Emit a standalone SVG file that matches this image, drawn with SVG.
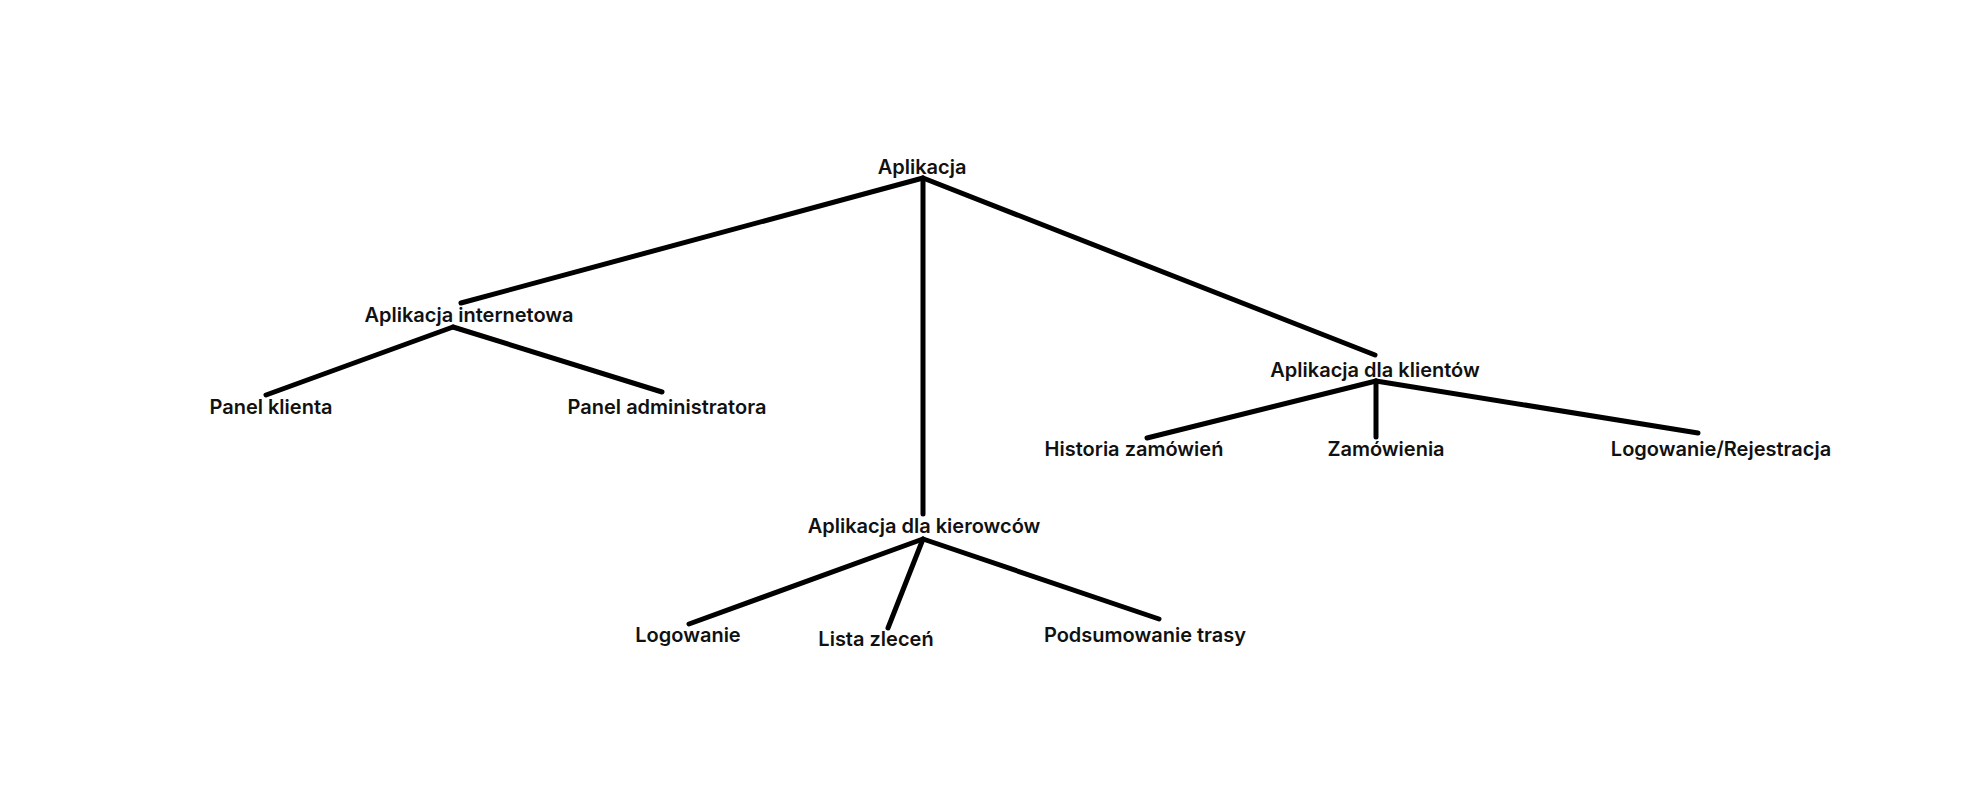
<svg xmlns="http://www.w3.org/2000/svg" width="1980" height="800" viewBox="0 0 1980 800">
<style>
.lbl{font-family:Inter,"Noto Sans","Liberation Sans",sans-serif;font-weight:600;font-size:20px;fill:#111;text-anchor:middle}
.edge{stroke:#000;stroke-width:5;stroke-linecap:round;stroke-linejoin:round;fill:none}
</style>
<rect width="1980" height="800" fill="#fff"/>
<g id="connectors">
<line class="edge" x1="923" y1="178" x2="461" y2="303"/>
<line class="edge" x1="923" y1="178" x2="923" y2="514"/>
<line class="edge" x1="923" y1="178" x2="1375" y2="355"/>
<line class="edge" x1="453" y1="327" x2="266" y2="395"/>
<line class="edge" x1="453" y1="327" x2="662" y2="392"/>
<line class="edge" x1="923" y1="539" x2="689" y2="624"/>
<line class="edge" x1="923" y1="539" x2="888" y2="628"/>
<line class="edge" x1="923" y1="539" x2="1159" y2="619"/>
<line class="edge" x1="1376" y1="381" x2="1147" y2="438"/>
<line class="edge" x1="1376" y1="381" x2="1376" y2="437"/>
<line class="edge" x1="1376" y1="381" x2="1698" y2="433"/>
</g>
<g id="n-root"><text class="lbl" x="922" y="174">Aplikacja</text></g>
<g id="n-web"><text class="lbl" x="469" y="322">Aplikacja internetowa</text></g>
<g id="n-panel-klienta"><text class="lbl" x="271" y="414">Panel klienta</text></g>
<g id="n-panel-admin"><text class="lbl" x="667" y="414">Panel administratora</text></g>
<g id="n-kierowcy"><text class="lbl" x="924" y="533">Aplikacja dla kierowców</text></g>
<g id="n-logowanie"><text class="lbl" x="688" y="642">Logowanie</text></g>
<g id="n-lista"><text class="lbl" x="876" y="646">Lista zleceń</text></g>
<g id="n-podsumowanie"><text class="lbl" x="1145" y="642">Podsumowanie trasy</text></g>
<g id="n-klienci"><text class="lbl" x="1375" y="377">Aplikacja dla klientów</text></g>
<g id="n-historia"><text class="lbl" x="1134" y="456">Historia zamówień</text></g>
<g id="n-zamowienia"><text class="lbl" x="1386" y="456">Zamówienia</text></g>
<g id="n-logrej"><text class="lbl" x="1721" y="456">Logowanie/Rejestracja</text></g>
</svg>
